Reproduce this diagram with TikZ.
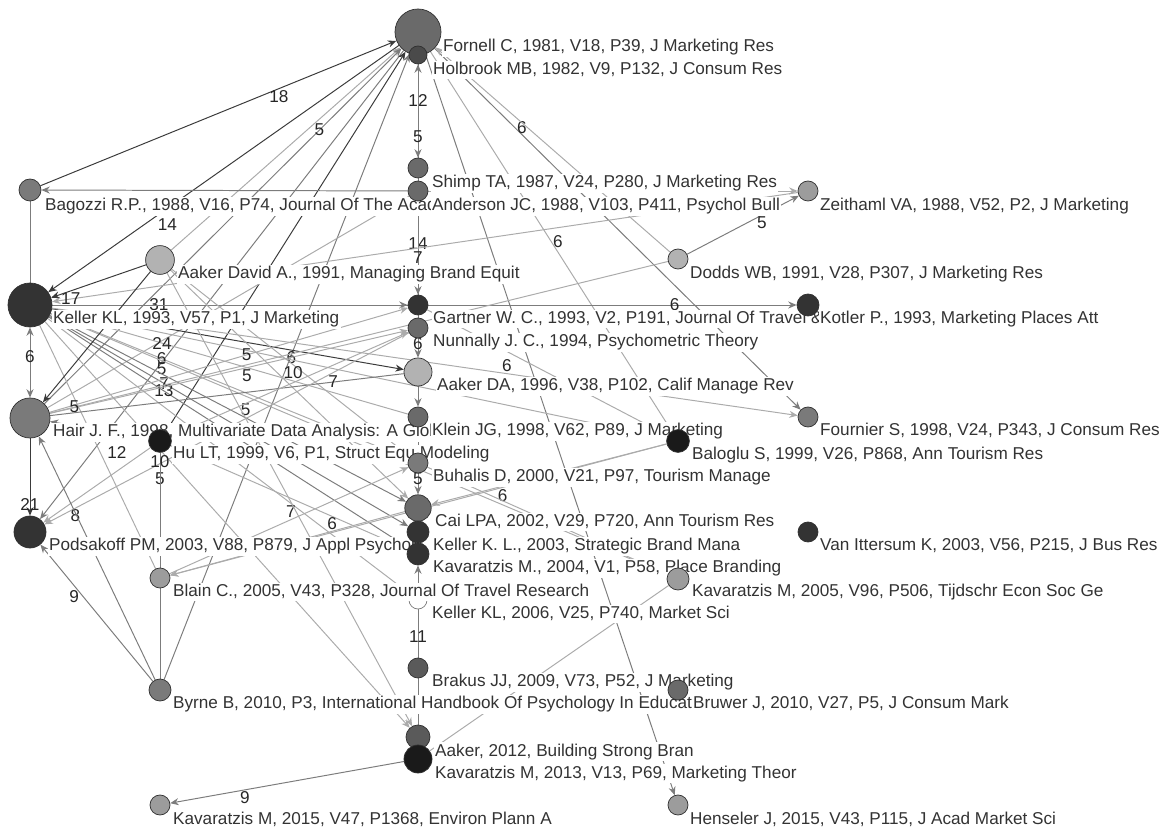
\documentclass[tikz,border=0pt]{standalone}
\usepackage{fontspec}
\setmainfont{Liberation Sans}
\usepackage{xcolor}
\usepackage{tikz}
\usetikzlibrary{arrows.meta}
\pgfdeclarelayer{edges}
\pgfdeclarelayer{labels}
\pgfsetlayers{edges,labels,main}
\definecolor{nodeline}{HTML}{303030}
\definecolor{labeltext}{HTML}{333333}
\definecolor{edgedark}{HTML}{3A3A3A}
\definecolor{edgemid}{HTML}{7C7C7C}
\definecolor{edgelight}{HTML}{ABABAB}
\definecolor{shadeA}{HTML}{1A1A1A}
\definecolor{shadeB}{HTML}{333333}
\definecolor{shadeC}{HTML}{4A4A4A}
\definecolor{shadeD}{HTML}{5A5A5A}
\definecolor{shadeE}{HTML}{6A6A6A}
\definecolor{shadeF}{HTML}{7A7A7A}
\definecolor{shadeG}{HTML}{9C9C9C}
\definecolor{shadeH}{HTML}{B2B2B2}
\tikzstyle{doc} = [circle, draw=nodeline, line width=0.5pt, inner sep=0pt]
\tikzstyle{doclabel} = [anchor=base west, fill=white, inner sep=1pt, text=labeltext, font=\fontsize{12.2}{14}\selectfont]
\tikzstyle{cites} = [inner sep=1pt, text=black!85, font=\fontsize{12.2}{14}\selectfont]
\tikzstyle{darkarrw} = [line width=0.7pt, draw=edgedark, -{Stealth[length=6pt, width=5pt]}]
\tikzstyle{midarrw} = [line width=0.7pt, draw=edgemid, -{Stealth[length=6pt, width=5pt]}]
\tikzstyle{lightarrw} = [line width=0.7pt, draw=edgelight, -{Stealth[length=6pt, width=5pt]}]
\tikzstyle{midline} = [line width=0.7pt, draw=edgemid]
\tikzstyle{lightline} = [line width=0.7pt, draw=edgelight]

\begin{document}
\begin{tikzpicture}[x=0.025cm, y=-0.025cm]
    \useasboundingbox (0,0) rectangle (1172,832);

    % documents
    \node (F81) [doc, minimum size=1.15cm, fill=shadeE] at (418,32) {};
    \node (H82) [doc, minimum size=0.45cm, fill=shadeC] at (418,55) {};
    \node (S87) [doc, minimum size=0.5cm, fill=shadeE] at (418,168) {};
    \node (A88) [doc, minimum size=0.5cm, fill=shadeE] at (418,191) {};
    \node (B88) [doc, minimum size=0.55cm, fill=shadeF] at (30,190) {};
    \node (Z88) [doc, minimum size=0.5cm, fill=shadeG] at (808,191) {};
    \node (AD91) [doc, minimum size=0.72cm, fill=shadeH] at (160,260) {};
    \node (D91) [doc, minimum size=0.5cm, fill=shadeH] at (678,259) {};
    \node (K93) [doc, minimum size=1.1cm, fill=shadeB] at (30,305) {};
    \node (G93) [doc, minimum size=0.5cm, fill=shadeB] at (418,305) {};
    \node (Ko93) [doc, minimum size=0.55cm, fill=shadeB] at (808,305) {};
    \node (N94) [doc, minimum size=0.5cm, fill=shadeE] at (418,328) {};
    \node (AD96) [doc, minimum size=0.7cm, fill=shadeH] at (418,372) {};
    \node (H98) [doc, minimum size=1.0cm, fill=shadeF] at (30,418) {};
    \node (Kl98) [doc, minimum size=0.5cm, fill=shadeE] at (418,417) {};
    \node (Fo98) [doc, minimum size=0.5cm, fill=shadeF] at (808,417) {};
    \node (Hu99) [doc, minimum size=0.57cm, fill=shadeA] at (160,441) {};
    \node (Ba99) [doc, minimum size=0.57cm, fill=shadeA] at (678,441) {};
    \node (Bu00) [doc, minimum size=0.5cm, fill=shadeF] at (418,463) {};
    \node (C02) [doc, minimum size=0.66cm, fill=shadeE] at (418,508) {};
    \node (P03) [doc, minimum size=0.8cm, fill=shadeB] at (30,532) {};
    \node (KK03) [doc, minimum size=0.55cm, fill=shadeB] at (418,532) {};
    \node (V03) [doc, minimum size=0.5cm, fill=shadeB] at (808,532) {};
    \node (Ka04) [doc, minimum size=0.55cm, fill=shadeB] at (418,554) {};
    \node (Bl05) [doc, minimum size=0.5cm, fill=shadeG] at (160,578) {};
    \node (Ka05) [doc, minimum size=0.55cm, fill=shadeG] at (678,579) {};
    \node (Br09) [doc, minimum size=0.5cm, fill=shadeD] at (418,668) {};
    \node (By10) [doc, minimum size=0.55cm, fill=shadeF] at (160,690) {};
    \node (Bru10) [doc, minimum size=0.5cm, fill=shadeE] at (678,690) {};
    \node (A12) [doc, minimum size=0.6cm, fill=shadeD] at (418,737) {};
    \node (Ka13) [doc, minimum size=0.7cm, fill=shadeA] at (418,759) {};
    \node (Ka15) [doc, minimum size=0.5cm, fill=shadeG] at (160,805) {};
    \node (He15) [doc, minimum size=0.5cm, fill=shadeG] at (678,805) {};

    \begin{pgfonlayer}{labels}
    \node (K06) [doc, minimum size=0.45cm, draw=edgemid, fill=white] at (418,600) {};
    \node (lF81) [doclabel] at (441.5,52) {Fornell C, 1981, V18, P39, J Marketing Res};
    \node (lH82) [doclabel] at (431.5,75) {Holbrook MB, 1982, V9, P132, J Consum Res};
    \node (lS87) [doclabel] at (430.5,188) {Shimp TA, 1987, V24, P280, J Marketing Res};
    \node (lB88) [doclabel] at (43.5,211) {Bagozzi R.P., 1988, V16, P74, Journal Of The Academy};
    \node (lA88) [doclabel] at (430.5,211) {Anderson JC, 1988, V103, P411, Psychol Bull};
    \node (lZ88) [doclabel] at (818.5,211) {Zeithaml VA, 1988, V52, P2, J Marketing};
    \node (lAD91) [doclabel] at (176.5,279) {Aaker David A., 1991, Managing Brand Equit};
    \node (lD91) [doclabel] at (688.5,279) {Dodds WB, 1991, V28, P307, J Marketing Res};
    \node (lK93) [doclabel] at (51.5,324) {Keller KL, 1993, V57, P1, J Marketing};
    \node (lG93) [doclabel] at (431.5,324) {Gartner W. C., 1993, V2, P191, Journal Of Travel \& Tourism};
    \node (lKo93) [doclabel] at (818.5,324) {Kotler P., 1993, Marketing Places Att};
    \node (lN94) [doclabel] at (431.5,347) {Nunnally J. C., 1994, Psychometric Theory};
    \node (lAD96) [doclabel] at (435.5,391) {Aaker DA, 1996, V38, P102, Calif Manage Rev};
    \node (lH98) [doclabel] at (51.5,437) {Hair J. F., 1998, Multivariate Data Analysis: A Global};
    \node (lKl98) [doclabel] at (430.5,436) {Klein JG, 1998, V62, P89, J Marketing};
    \node (lFo98) [doclabel] at (818.5,436) {Fournier S, 1998, V24, P343, J Consum Res};
    \node (lHu99) [doclabel] at (171.5,459) {Hu LT, 1999, V6, P1, Struct Equ Modeling};
    \node (lBa99) [doclabel] at (690.5,460) {Baloglu S, 1999, V26, P868, Ann Tourism Res};
    \node (lBu00) [doclabel] at (431.5,482) {Buhalis D, 2000, V21, P97, Tourism Manage};
    \node (lC02) [doclabel] at (433.5,527) {Cai LPA, 2002, V29, P720, Ann Tourism Res};
    \node (lP03) [doclabel] at (47.5,551) {Podsakoff PM, 2003, V88, P879, J Appl Psychol};
    \node (lKK03) [doclabel] at (431.5,551) {Keller K. L., 2003, Strategic Brand Mana};
    \node (lV03) [doclabel] at (818.5,551) {Van Ittersum K, 2003, V56, P215, J Bus Res};
    \node (lKa04) [doclabel] at (431.5,573) {Kavaratzis M., 2004, V1, P58, Place Branding};
    \node (lBl05) [doclabel] at (171.5,597) {Blain C., 2005, V43, P328, Journal Of Travel Research};
    \node (lKa05) [doclabel] at (690.5,597) {Kavaratzis M, 2005, V96, P506, Tijdschr Econ Soc Ge};
    \node (lK06) [doclabel] at (430.5,619) {Keller KL, 2006, V25, P740, Market Sci};
    \node (lBr09) [doclabel] at (430.5,687) {Brakus JJ, 2009, V73, P52, J Marketing};
    \node (lBy10) [doclabel] at (171.5,709) {Byrne B, 2010, P3, International Handbook Of Psychology In Education};
    \node (lBru10) [doclabel] at (691.5,709) {Bruwer J, 2010, V27, P5, J Consum Mark};
    \node (lA12) [doclabel] at (433.5,756) {Aaker, 2012, Building Strong Bran};
    \node (lKa13) [doclabel] at (433.5,778) {Kavaratzis M, 2013, V13, P69, Marketing Theor};
    \node (lKa15) [doclabel] at (171.5,824) {Kavaratzis M, 2015, V47, P1368, Environ Plann A};
    \node (lHe15) [doclabel] at (688.5,824) {Henseler J, 2015, V43, P115, J Acad Market Sci};
    \end{pgfonlayer}

    \begin{pgfonlayer}{edges}
    % links around Fornell
    \draw [darkarrw] (B88) -- node[cites, pos=.67, below] {18} (F81);
    \draw [darkarrw] (F81) -- node[cites, pos=.66, below=6pt] {14} (K93);
    \draw [lightarrw] (AD91) -- (F81);
    \draw [midarrw] (H98) -- node[cites, pos=.77] {5} (F81);
    \draw [midarrw] (F81) -- (P03);
    \draw [darkarrw] (Hu99) -- (F81);
    \draw [midarrw] (By10) -- (F81);
    \draw [midarrw] (F81) -- (He15);
    \draw [lightline] (F81) -- node[cites, pos=.5, right] {6} (Ba99);
    \draw [midarrw] (F81) -- node[cites, pos=.22, right] {6} (Fo98);
    \draw [lightarrw] (D91) -- (F81);

    % upper middle column
    \draw [midarrw] (A88) -- node[cites, pos=.69] {12} (H82);
    \draw [midarrw] (H82) -- node[cites, pos=.78] {5} (S87);
    \draw [midarrw] (A88) -- (B88);
    \draw [lightline] (A88) -- (H98);
    \draw [midarrw] (A88) -- node[cites, pos=.45] {14} (G93);
    \draw [midline] (S87) -- node[cites, pos=.57] {7} (N94);
    \draw [lightarrw] (A88) -- (Z88);
    \draw [midarrw] (D91) -- node[cites, pos=.67, below] {5} (Z88);
    \draw [lightarrw] (Z88) -- node[cites, pos=.975] {17} (K93);

    % left column
    \draw [midline] (B88) -- (K93);
    \draw [midarrw, {Stealth[length=6pt, width=5pt]}-{Stealth[length=6pt, width=5pt]}] (K93) -- node[cites, pos=.42] {6} (H98);
    \draw [darkarrw] (H98) -- node[cites, pos=.86] {21} (P03);

    % links from Keller
    \draw [midarrw] (K93) -- node[cites, pos=.30] {31} (G93);
    \draw [midarrw] (K93) -- node[cites, pos=.836] {6} (Ko93);
    \draw [darkarrw] (K93) -- node[cites, pos=.68, below] {6} (AD96);
    \draw [lightarrw] (Kl98) -- node[cites, pos=.69] {24} (K93);
    \draw [lightarrw] (Bu00) -- node[cites, pos=.69] {6} (K93);
    \draw [lightline] (K93) -- node[cites, pos=.18, below] {5} (Ka05);
    \draw [midarrw] (K93) -- node[cites, pos=.32] {7} (KK03);
    \draw [midarrw] (K93) -- node[cites, pos=.32] {13} (Ka04);
    \draw [midarrw] (K93) -- node[cites, pos=.55, above] {5} (C02);
    \draw [lightarrw] (K93) -- node[cites, pos=.61, above] {6} (Fo98);
    \draw [lightline] (K93) -- (Ba99);
    \draw [lightarrw] (K93) -- node[cites, pos=.67, below] {7} (K06);
    \draw [lightarrw] (K93) -- (A12);
    \draw [lightline] (K93) -- (Bl05);

    % links from Aaker 1991
    \draw [darkarrw] (AD91) -- (K93);
    \draw [darkarrw] (AD91) -- (H98);
    \draw [lightarrw] (AD91) -- node[cites, pos=.51, below] {10} (Bu00);
    \draw [lightarrw] (AD91) -- (C02);
    \draw [lightarrw] (AD91) -- (A12);

    % links from Hair, Hu, Byrne
    \draw [lightarrw] (H98) -- node[cites, pos=.55, below] {5} (N94);
    \draw [lightarrw] (H98) -- node[cites, pos=.55] {5} (G93);
    \draw [lightline] (H98) -- node[cites, pos=.04] {5} (D91);
    \draw [midline] (H98) -- node[cites, pos=.80] {7} (AD96);
    \draw [midarrw] (Hu99) -- node[cites, pos=.32, below=8pt] {12} (H98);
    \draw [lightarrw] (Hu99) -- (P03);
    \draw [lightarrw] (N94) -- node[cites, pos=.915, below] {8} (P03);
    \draw [midarrw] (By10) -- node[cites, pos=.70, below=2pt] {9} (P03);
    \draw [midarrw] (By10) -- (H98);
    \draw [midline] (By10) -- (Bl05);
    \draw [midline] (By10) -- node[cites, pos=.886] {5} (Hu99);
    \draw [midline] (Bl05) -- node[cites, pos=.92] {10} (Hu99);
    \draw [lightarrw] (Hu99) -- (Ka04);
    \draw [lightarrw] (Hu99) -- (N94);
    \draw [lightarrw] (Bl05) -- (Bu00);

    % lower middle column
    \draw [midarrw] (N94) -- node[cites, pos=.25] {6} (AD96);
    \draw [midarrw] (AD96) -- (Kl98);
    \draw [midline] (Kl98) -- (Bu00);
    \draw [midarrw] (Bu00) -- node[cites, pos=.23] {5} (C02);
    \draw [midarrw] (K06) -- (Ka04);
    \draw [midline] (Br09) -- node[cites, pos=.43] {11} (K06);
    \draw [midline] (Br09) -- (A12);

    % tourism links
    \draw [lightarrw] (G93) -- (Ba99);
    \draw [lightarrw] (Ba99) -- (C02);
    \draw [lightarrw] (Ba99) -- node[cites, pos=.33, below] {6} (Bl05);
    \draw [lightarrw] (C02) -- node[cites, pos=.31, above] {6} (Bl05);
    \draw [lightline] (Bu00) -- (Ka05);
    \draw [lightline] (Ka13) -- (Ka05);
    \draw [midarrw] (Ka13) -- node[cites, pos=.68, below] {9} (Ka15);
    \end{pgfonlayer}
\end{tikzpicture}
\end{document}
